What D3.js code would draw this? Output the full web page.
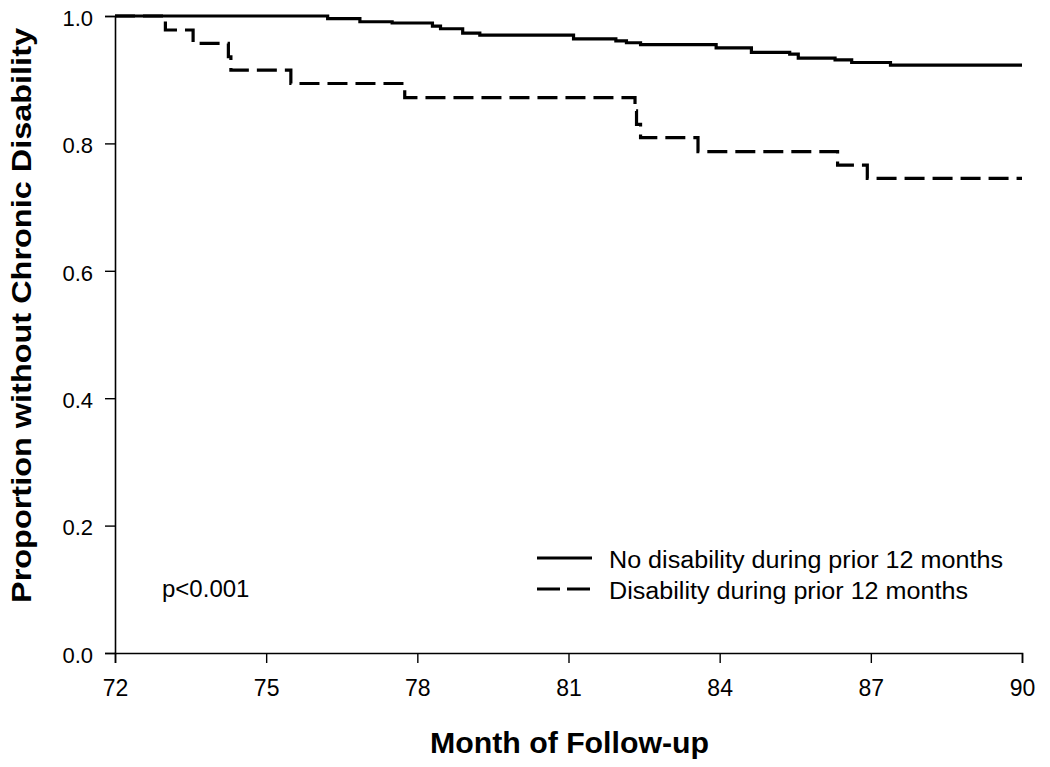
<!DOCTYPE html>
<html><head><meta charset="utf-8">
<script src="https://cdn.jsdelivr.net/npm/d3@7/dist/d3.min.js"></script>
<style>
html,body{margin:0;padding:0;background:#fff;}
svg{display:block;font-family:"Liberation Sans",Arial,sans-serif;}
</style></head>
<body>
<svg id="chart" width="1050" height="767"></svg>
<script>
// ---- data ----
const xTicks = [72, 75, 78, 81, 84, 87, 90];
const yTicks = [0.0, 0.2, 0.4, 0.6, 0.8, 1.0];
const seriesNames = ["No disability during prior 12 months", "Disability during prior 12 months"];
const noDisTimes = [72, 76.22, 76.86, 77.5, 78.3, 78.46, 78.9, 79.24, 81.1, 81.94, 82.15, 82.43, 83.93, 84.63, 85.39, 85.56, 86.29, 86.62, 87.39, 90];
const noDisValues = [1.0, 0.996, 0.991, 0.989, 0.984, 0.980, 0.973, 0.970, 0.964, 0.961, 0.958, 0.955, 0.950, 0.943, 0.940, 0.934, 0.931, 0.927, 0.923, 0.923];
const disTimes = [72, 73.0, 73.55, 74.25, 74.30, 75.49, 77.75, 82.32, 82.35, 82.43, 83.57, 86.34, 86.93, 90];
const disValues = [1.0, 0.978, 0.957, 0.936, 0.915, 0.894, 0.872, 0.851, 0.830, 0.809, 0.787, 0.766, 0.745, 0.745];
const pText = "p<0.001";
const xTitle = "Month of Follow-up";
const yTitle = "Proportion without Chronic Disability";

// ---- layout ----
const svg = d3.select("#chart");
const L = 115, R = 1022, T = 16, B = 653;
const x = d3.scaleLinear().domain([72, 90]).range([L, R]);
const y = d3.scaleLinear().domain([0, 1]).range([B, T]);

// axes
const xAxis = d3.axisBottom(x).tickValues(xTicks).tickSize(10).tickPadding(17).tickFormat(d3.format("d"));
const yAxis = d3.axisLeft(y).tickValues(yTicks).tickSize(10).tickPadding(12).tickFormat(d3.format(".1f"));
const gx = svg.append("g").attr("transform", `translate(0,${B})`).call(xAxis);
const gy = svg.append("g").attr("transform", `translate(${L},0)`).call(yAxis);
[gx, gy].forEach(g => {
  g.select(".domain").attr("stroke", "#000").attr("stroke-width", 1.6);
  g.selectAll(".tick line").attr("stroke", "#000").attr("stroke-width", 1.4);
  g.selectAll(".tick text").attr("fill", "#000")
    .attr("font-family", '"Liberation Sans",Arial,sans-serif');
});
gx.selectAll(".tick text").attr("font-size", 23);
gy.selectAll(".tick text").attr("font-size", 22).attr("dy", "0.42em");

// curves
const line = d3.line().x(d => x(d[0])).y(d => y(d[1])).curve(d3.curveStepAfter);
const noDis = noDisTimes.map((t, i) => [t, noDisValues[i]]);
const dis = disTimes.map((t, i) => [t, disValues[i]]);
svg.append("path").datum(dis).attr("d", line).attr("fill", "none")
  .attr("stroke", "#000").attr("stroke-width", 3.2).attr("stroke-dasharray", "20,8");
svg.append("path").datum(noDis).attr("d", line).attr("fill", "none")
  .attr("stroke", "#000").attr("stroke-width", 3.2);

// legend
const lg = svg.append("g");
const legY = [558, 589];
const legLen = [394, 359];
lg.append("line").attr("x1", 537).attr("x2", 592).attr("y1", legY[0]).attr("y2", legY[0])
  .attr("stroke", "#000").attr("stroke-width", 3);
lg.append("line").attr("x1", 537).attr("x2", 597).attr("y1", legY[1]).attr("y2", legY[1])
  .attr("stroke", "#000").attr("stroke-width", 3).attr("stroke-dasharray", "23,7");
seriesNames.forEach((n, i) => {
  lg.append("text").attr("x", 609).attr("y", legY[i] + 10).attr("font-size", 23.5).attr("fill", "#000")
    .attr("textLength", legLen[i]).attr("lengthAdjust", "spacingAndGlyphs").text(n);
});

// p-value
svg.append("text").attr("x", 162).attr("y", 597).attr("font-size", 24).attr("fill", "#000").text(pText);

// axis titles
svg.append("text").attr("x", 569.5).attr("y", 753).attr("text-anchor", "middle")
  .attr("font-size", 29).attr("font-weight", "bold").attr("fill", "#000")
  .attr("textLength", 279).attr("lengthAdjust", "spacingAndGlyphs").text(xTitle);
svg.append("text").attr("transform", "translate(31,315.5) rotate(-90)").attr("text-anchor", "middle")
  .attr("font-size", 28).attr("font-weight", "bold").attr("fill", "#000")
  .attr("textLength", 575).attr("lengthAdjust", "spacingAndGlyphs").text(yTitle);
</script>
</body></html>
